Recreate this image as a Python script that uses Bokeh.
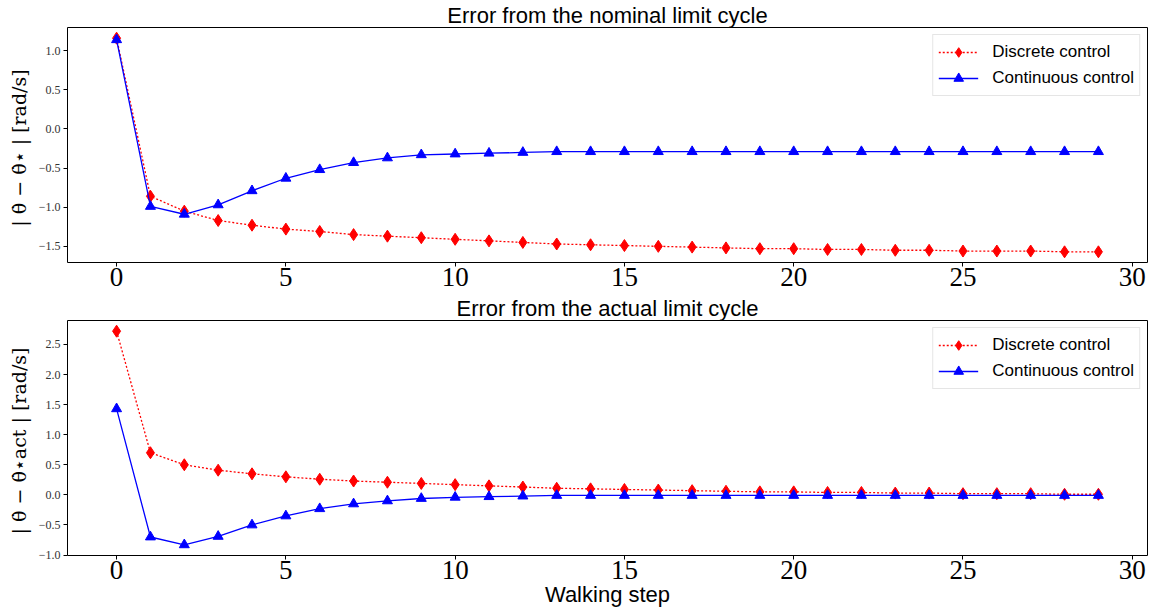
from bokeh.plotting import figure
from bokeh.layouts import column
from bokeh.models import FixedTicker, Range1d
from bokeh.embed import file_html
from bokeh.resources import INLINE

# ---------------- data ----------------
steps = [0, 1, 2, 3, 4, 5, 6, 7, 8, 9, 10, 11, 12, 13, 14,
         15, 16, 17, 18, 19, 20, 21, 22, 23, 24, 25, 26, 27, 28, 29]

nominal_discrete = [1.16, -0.86, -1.05, -1.17, -1.23, -1.28, -1.31, -1.35, -1.37, -1.39,
                    -1.41, -1.43, -1.45, -1.47, -1.48, -1.49, -1.50, -1.51, -1.52, -1.53,
                    -1.53, -1.54, -1.54, -1.55, -1.55, -1.56, -1.56, -1.56, -1.57, -1.57]
nominal_continuous = [1.14, -0.99, -1.09, -0.97, -0.79, -0.63, -0.52, -0.43, -0.37, -0.33,
                      -0.32, -0.31, -0.30, -0.29, -0.29, -0.29, -0.29, -0.29, -0.29, -0.29,
                      -0.29, -0.29, -0.29, -0.29, -0.29, -0.29, -0.29, -0.29, -0.29, -0.29]

actual_discrete = [2.72, 0.70, 0.50, 0.41, 0.35, 0.30, 0.26, 0.23, 0.21, 0.19,
                   0.17, 0.15, 0.13, 0.11, 0.10, 0.09, 0.08, 0.07, 0.06, 0.05,
                   0.05, 0.04, 0.04, 0.03, 0.03, 0.02, 0.02, 0.02, 0.01, 0.01]
actual_continuous = [1.43, -0.70, -0.83, -0.69, -0.50, -0.35, -0.23, -0.15, -0.10, -0.06,
                     -0.04, -0.03, -0.02, -0.01, -0.01, -0.01, -0.01, -0.01, -0.01, -0.01,
                     -0.01, -0.01, -0.01, -0.01, -0.01, -0.01, -0.01, -0.01, -0.01, -0.01]

x_ticks = [0, 5, 10, 15, 20, 25, 30]
x_tick_labels = ["0", "5", "10", "15", "20", "25", "30"]
top_y_ticks = [-1.5, -1.0, -0.5, 0.0, 0.5, 1.0]
top_y_tick_labels = ["\u22121.5", "\u22121.0", "\u22120.5", "0.0", "0.5", "1.0"]
bot_y_ticks = [-1.0, -0.5, 0.0, 0.5, 1.0, 1.5, 2.0, 2.5]
bot_y_tick_labels = ["\u22121.0", "\u22120.5", "0.0", "0.5", "1.0", "1.5", "2.0", "2.5"]

series_labels = ["Discrete control", "Continuous control"]
titles = ["Error from the nominal limit cycle", "Error from the actual limit cycle"]
y_labels = ["| \u03b8\u0307 \u2212 \u03b8\u0307\u22c6 |  [rad/s]",
            "| \u03b8\u0307 \u2212 \u03b8\u0307\u22c6act |  [rad/s]"]
x_label = "Walking step"

SANS = "Liberation Sans"
SERIF = "Liberation Serif"
LABEL_SERIF = "DejaVu Serif"


def make_fig(height, disc, cont, yt, ytl, title, ylabel, border_top, border_bottom, xlabel=None):
    lo = min(min(disc), min(cont))
    hi = max(max(disc), max(cont))
    m = 0.05 * (hi - lo)
    p = figure(width=1154, height=height, output_backend="svg", toolbar_location=None,
               x_range=Range1d(-1.45, 30.45), y_range=Range1d(lo - m, hi + m),
               min_border_left=67, min_border_right=7,
               min_border_top=border_top, min_border_bottom=border_bottom)
    p.title.text = title
    p.title.text_font = SANS
    p.title.text_font_size = "22px"
    p.title.text_font_style = "normal"
    p.title.text_color = "black"
    p.title.align = "center"
    p.title.standoff = 0
    p.grid.visible = False
    p.outline_line_color = "black"
    p.outline_line_width = 1
    p.background_fill_color = "white"
    p.border_fill_color = "white"

    p.xaxis.ticker = FixedTicker(ticks=x_ticks)
    p.xaxis.major_label_overrides = dict(zip(x_ticks, x_tick_labels))
    p.yaxis.ticker = FixedTicker(ticks=yt)
    p.yaxis.major_label_overrides = dict(zip(yt, ytl))
    for ax in (p.xaxis, p.yaxis):
        ax.axis_line_color = None
        ax.major_tick_in = 0
        ax.major_tick_out = 4
        ax.major_tick_line_color = "black"
        ax.minor_tick_line_color = None
        ax.major_label_text_font = SERIF
    p.xaxis.major_label_text_color = "black"
    p.yaxis.major_label_text_color = "#333333"
    p.xaxis.major_label_text_font_size = "27px"
    p.xaxis.major_label_standoff = 1
    p.yaxis.major_label_text_font_size = "12px"
    p.yaxis.major_label_standoff = 3
    p.yaxis.axis_label = ylabel
    p.yaxis.axis_label_text_font = LABEL_SERIF
    p.yaxis.axis_label_text_font_size = "19px"
    p.yaxis.axis_label_text_font_style = "normal"
    p.yaxis.axis_label_text_color = "black"
    p.yaxis.axis_label_standoff = 6
    if xlabel:
        p.xaxis.axis_label = xlabel
        p.xaxis.axis_label_text_font = SANS
        p.xaxis.axis_label_text_font_size = "22px"
        p.xaxis.axis_label_text_font_style = "normal"
        p.xaxis.axis_label_text_color = "black"
        p.xaxis.axis_label_standoff = 0

    p.line(steps, disc, color="red", line_width=1.3, line_dash="2 2", legend_label=series_labels[0])
    p.scatter(steps, disc, marker="diamond", size=12, color="red", legend_label=series_labels[0])
    p.line(steps, cont, color="blue", line_width=1.3, legend_label=series_labels[1])
    p.scatter(steps, cont, marker="triangle", size=10, color="blue", legend_label=series_labels[1])

    lg = p.legend[0]
    lg.location = "top_right"
    lg.label_text_font = SANS
    lg.label_text_font_size = "17px"
    lg.label_text_color = "black"
    lg.border_line_color = "#cccccc"
    lg.border_line_width = 1
    lg.margin = 7
    lg.padding = 5
    lg.spacing = 2
    lg.glyph_width = 40
    lg.label_height = 24
    lg.glyph_height = 24
    lg.label_standoff = 14
    lg.background_fill_alpha = 0.8
    return p


p1 = make_fig(292, nominal_discrete, nominal_continuous, top_y_ticks, top_y_tick_labels,
              titles[0], y_labels[0], 27, 30)
p2 = make_fig(318, actual_discrete, actual_continuous, bot_y_ticks, bot_y_tick_labels,
              titles[1], y_labels[1], 28, 55, xlabel=x_label)

layout = column(p1, p2, spacing=0)
open("out.html", "w").write(file_html(layout, INLINE))
